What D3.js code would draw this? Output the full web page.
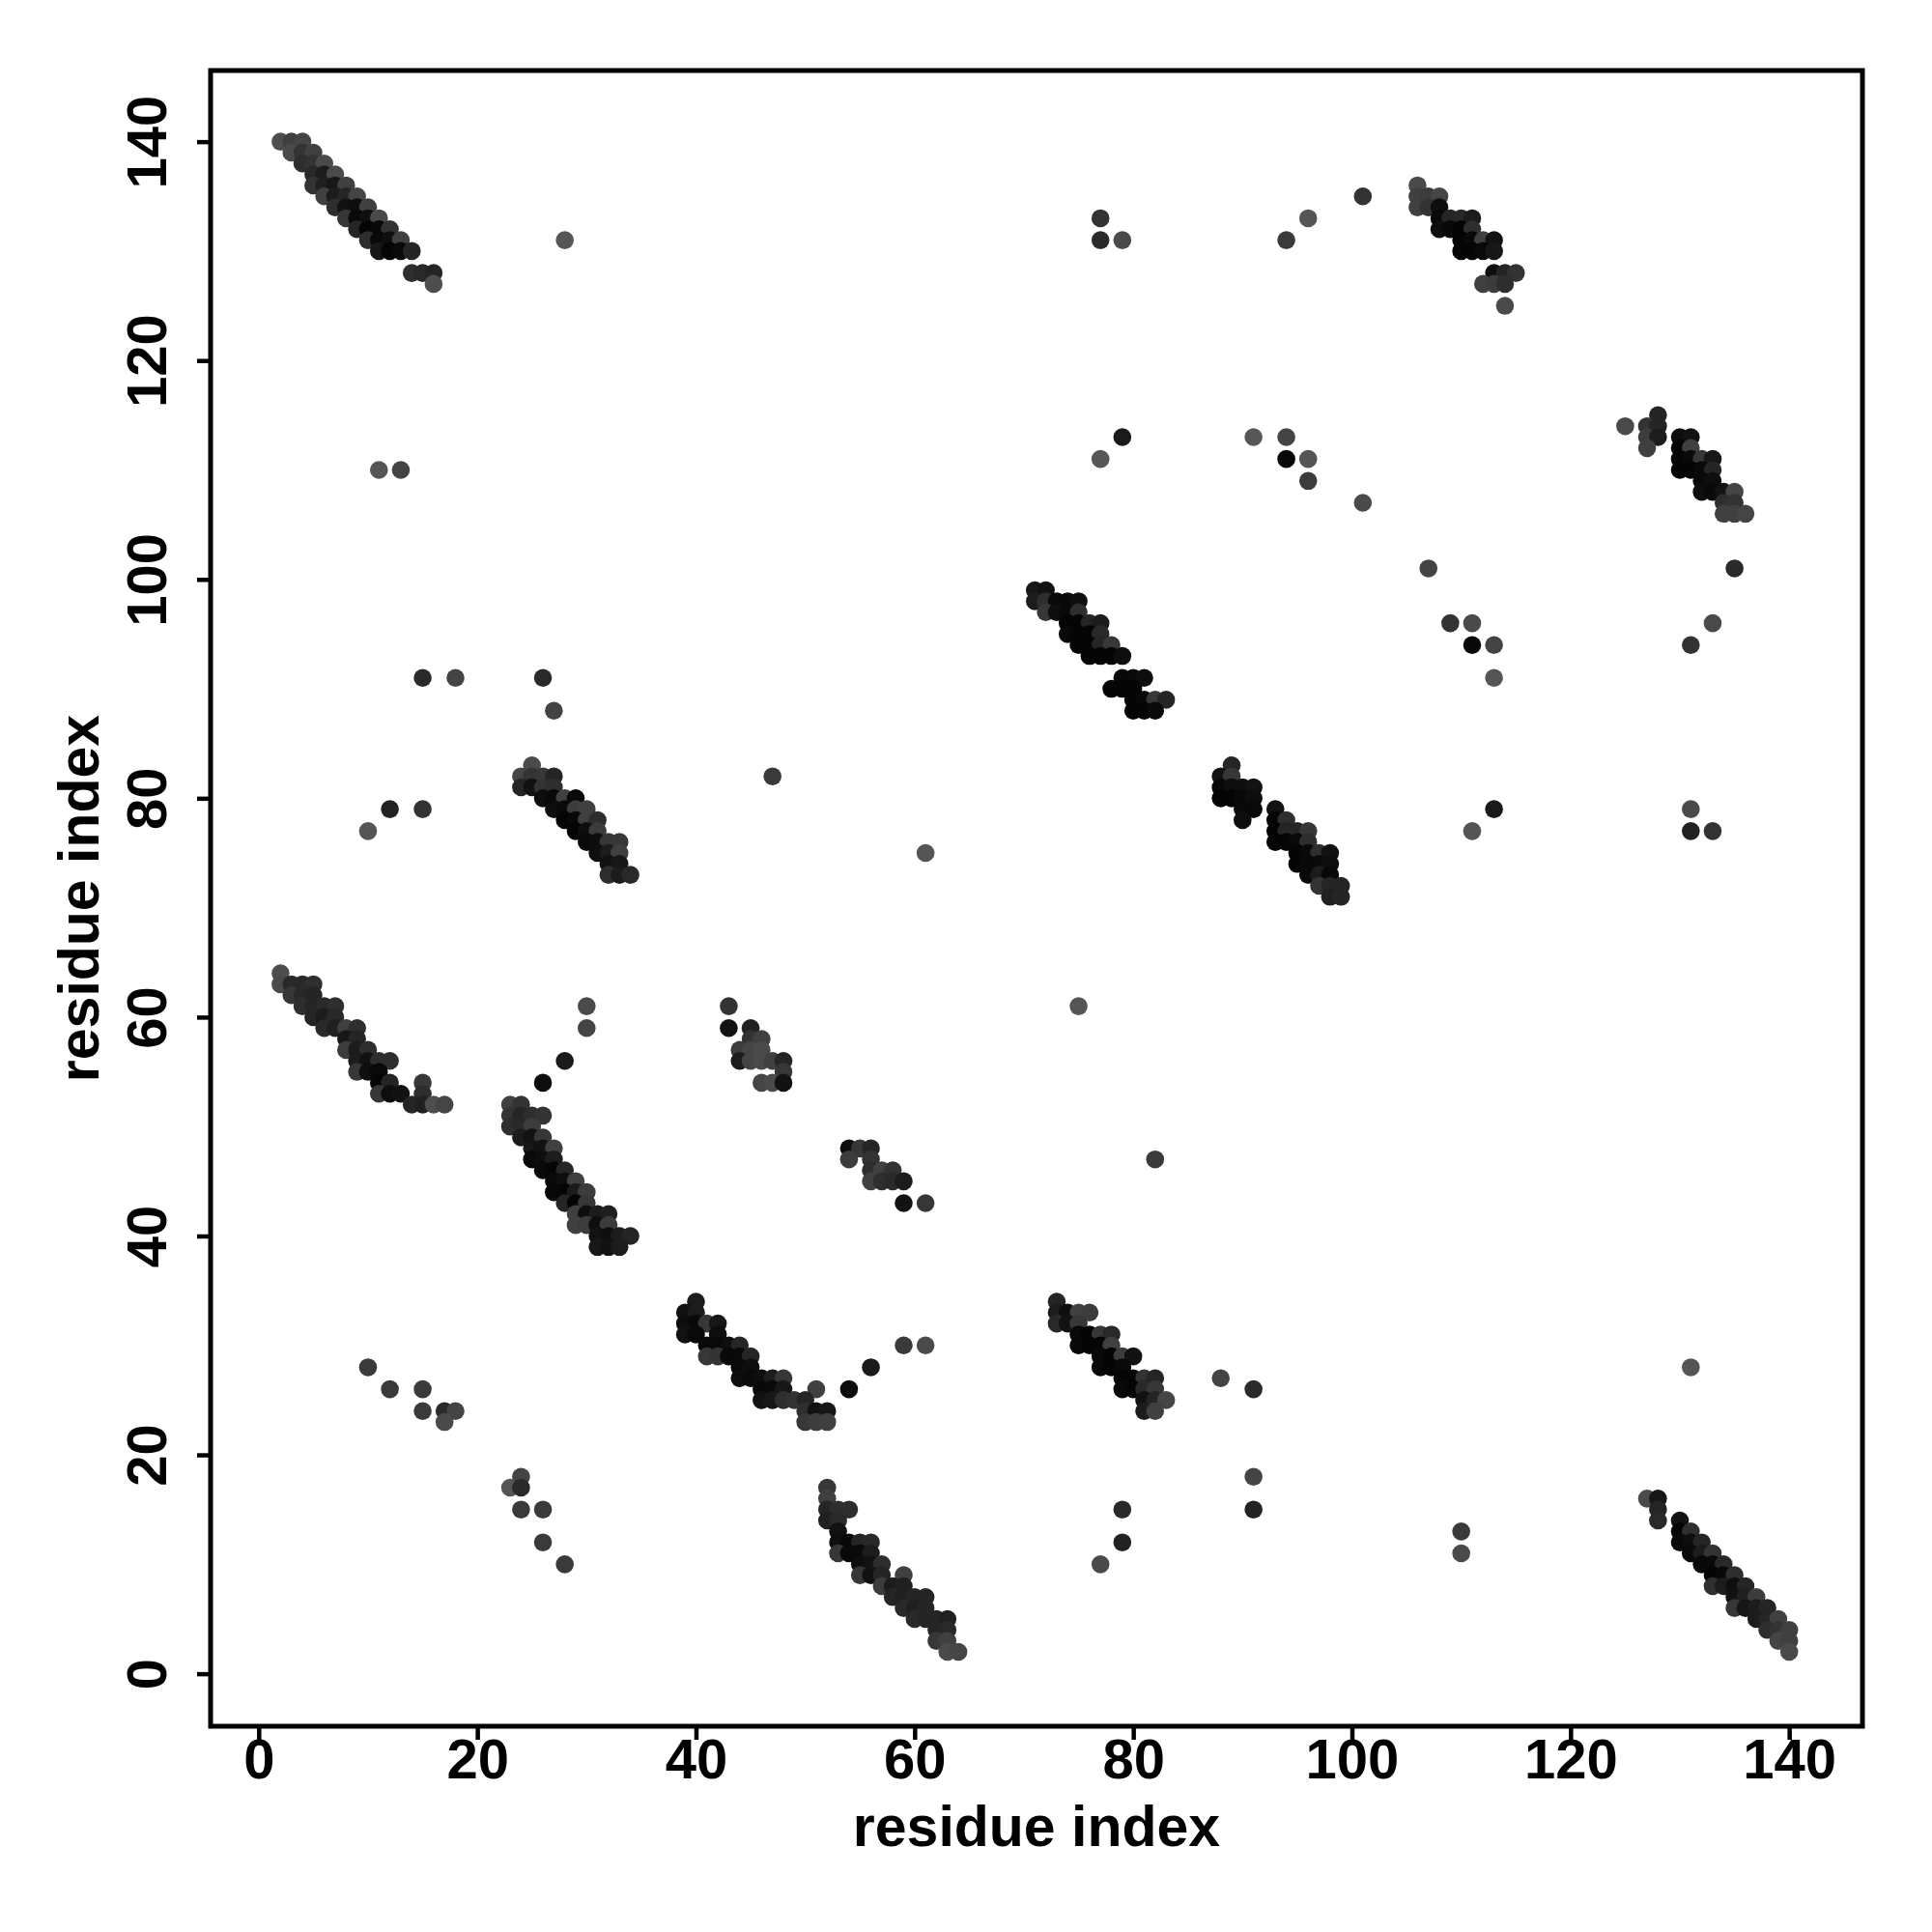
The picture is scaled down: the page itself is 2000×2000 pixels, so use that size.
<!DOCTYPE html>
<html>
<head>
<meta charset="utf-8">
<script src="https://cdn.jsdelivr.net/npm/d3@7"></script>
<style>
  body { margin: 0; background: #fff; }
  svg text { font-family: "Liberation Sans", Arial, Helvetica, sans-serif; font-weight: bold; fill: #000; }
</style>
</head>
<body>
<div id="wrapper"></div>
<script>
// Contact map data: [residue i, residue j, contact strength 0..1]
// Each block is one strand pairing band
const bandTopLeft = [
  [2,140,.15],[3,140,.3],[4,140,.25],
  [3,139,.2],[4,139,.45],[5,139,.3],
  [4,138,.5],[5,138,.45],[6,138,.2],
  [5,137,.55],[6,137,.7],[7,137,.2],
  [5,136,.45],[6,136,.65],[7,136,.75],[8,136,.3],
  [6,135,.3],[7,135,.7],[8,135,.6],[9,135,.25],
  [7,134,.5],[8,134,.8],[9,134,.85],[10,134,.3],
  [8,133,.4],[9,133,.9],[10,133,.85],[11,133,.2],
  [9,132,.6],[10,132,.95],[11,132,.9],[12,132,.45],
  [10,131,.5],[11,131,.9],[12,131,.85],[13,131,.3],
  [11,130,.75],[12,130,.95],[13,130,.9],[14,130,.6],
  [14,128,.5],[15,128,.55],[16,128,.6],
  [16,127,.15]
]
const band25x80 = [
  [25,83,.2],
  [24,82,.25],[25,82,.45],[26,82,.4],[27,82,.6],
  [24,81,.6],[25,81,.8],[26,81,.45],[27,81,.5],
  [26,80,.85],[27,80,.9],[28,80,.3],[29,80,.9],
  [27,79,.85],[28,79,.9],[29,79,.35],[30,79,.3],
  [28,78,.95],[29,78,.9],[30,78,.3],[31,78,.5],
  [29,77,.95],[30,77,.85],[31,77,.35],
  [30,76,.9],[31,76,.85],[32,76,.4],[33,76,.4],
  [31,75,.85],[32,75,.7],[33,75,.3],
  [32,74,.8],[33,74,.75],
  [32,73,.5],[33,73,.7],[34,73,.55]
]
const band5x60 = [
  [2,64,.15],
  [2,63,.2],[3,63,.55],[4,63,.55],[5,63,.5],
  [3,62,.4],[4,62,.55],[5,62,.6],
  [4,61,.5],[5,61,.6],[6,61,.55],[7,61,.5],
  [5,60,.6],[6,60,.7],[7,60,.55],
  [6,59,.55],[7,59,.65],[8,59,.3],[9,59,.5],
  [8,58,.75],[9,58,.6],
  [8,57,.35],[9,57,.7],[10,57,.5],
  [9,56,.7],[10,56,.8],[11,56,.5],[12,56,.5],
  [9,55,.4],[10,55,.85],[11,55,.9],
  [11,54,.95],[12,54,.6],[15,54,.4],
  [11,53,.4],[12,53,.85],[13,53,.8],[15,53,.5],
  [14,52,.6],[15,52,.65],[16,52,.15],[17,52,.25]
]
const band25x45 = [
  [23,52,.3],[24,52,.45],
  [23,51,.45],[24,51,.6],[25,51,.5],[26,51,.45],
  [23,50,.5],[24,50,.55],[25,50,.35],
  [24,49,.7],[25,49,.8],[26,49,.4],
  [25,48,.75],[26,48,.8],[27,48,.3],
  [25,47,.9],[26,47,.85],[27,47,.7],
  [26,46,.9],[27,46,.95],[28,46,.6],
  [27,45,.9],[28,45,.85],[29,45,.3],
  [27,44,.9],[28,44,.95],[29,44,.7],[30,44,.35],
  [28,43,.6],[29,43,.95],[30,43,.4],
  [29,42,.3],[30,42,.85],[31,42,.7],[32,42,.65],
  [29,41,.3],[30,41,.35],[31,41,.85],[32,41,.35],
  [31,40,.8],[32,40,.85],[33,40,.7],[34,40,.6],
  [31,39,.75],[32,39,.8],[33,39,.7]
]
const band45x57 = [
  [43,61,.45],
  [43,59,.8],[45,59,.65],
  [45,58,.45],[46,58,.3],
  [44,57,.35],[45,57,.25],[46,57,.2],
  [44,56,.7],[45,56,.25],[46,56,.2],[47,56,.3],[48,56,.6],
  [48,55,.4],
  [46,54,.25],[47,54,.2],[48,54,.8]
]
const band110x130 = [
  [106,136,.2],
  [106,135,.3],[107,135,.35],[108,135,.25],
  [106,134,.3],[107,134,.45],[108,134,.85],
  [108,133,.9],[109,133,.6],[110,133,.55],[111,133,.7],
  [108,132,.85],[109,132,.9],[110,132,.95],[111,132,.5],
  [110,131,.95],[111,131,.9],[112,131,.3],[113,131,.8],
  [110,130,.95],[111,130,.95],[112,130,.9],[113,130,.75],
  [113,128,.85],[114,128,.6],[115,128,.45],
  [112,127,.3],[113,127,.35],[114,127,.5],
  [114,125,.2]
]
const band130x110 = [
  [128,115,.6],
  [125,114,.2],[127,114,.45],[128,114,.6],
  [127,113,.35],[128,113,.7],[130,113,.85],[131,113,.8],
  [127,112,.3],[130,112,.95],[131,112,.3],
  [130,111,.95],[131,111,.9],[132,111,.4],[133,111,.75],
  [130,110,.95],[131,110,.95],[132,110,.9],[133,110,.6],
  [132,109,.9],[133,109,.85],
  [132,108,.85],[133,108,.9],[134,108,.8],[135,108,.25],
  [134,107,.5],[135,107,.45],
  [134,106,.3],[135,106,.3],[136,106,.25]
]
const band77x93 = [
  [71,99,.75],[72,99,.8],
  [71,98,.7],[72,98,.5],[73,98,.9],[74,98,.9],[75,98,.85],
  [72,97,.4],[73,97,.85],[74,97,.9],[75,97,.5],
  [74,96,.95],[75,96,.95],[76,96,.6],[77,96,.7],
  [74,95,.9],[75,95,.95],[76,95,.95],[77,95,.55],
  [75,94,.95],[76,94,.95],[77,94,.6],[78,94,.4],
  [76,93,.95],[77,93,.95],[78,93,.95],[79,93,.85],
  [79,91,.9],[80,91,.9],[81,91,.85],
  [78,90,.95],[79,90,.95],[80,90,.95],
  [80,89,.95],[81,89,.9],[82,89,.4],[83,89,.6],
  [80,88,.95],[81,88,.95],[82,88,.9]
]
const band93x77 = [
  [89,83,.6],
  [88,82,.8],[89,82,.4],
  [88,81,.9],[89,81,.85],[90,81,.85],[91,81,.8],
  [88,80,.95],[89,80,.95],[90,80,.9],[91,80,.85],
  [90,79,.9],[91,79,.9],[93,79,.8],
  [90,78,.85],[93,78,.95],[94,78,.5],
  [93,77,.95],[94,77,.6],[95,77,.6],[96,77,.4],
  [93,76,.95],[94,76,.95],[95,76,.9],[96,76,.5],
  [95,75,.95],[96,75,.9],[97,75,.5],[98,75,.8],
  [95,74,.95],[96,74,.9],[97,74,.9],[98,74,.85],
  [96,73,.9],[97,73,.7],[98,73,.9],
  [97,72,.45],[98,72,.6],[99,72,.6],
  [98,71,.65],[99,71,.6]
]
const band45x28 = [
  [40,34,.7],
  [39,33,.8],[40,33,.7],
  [39,32,.85],[40,32,.9],[41,32,.4],[42,32,.75],
  [39,31,.8],[40,31,.9],[42,31,.85],
  [41,30,.9],[42,30,.9],[43,30,.85],[44,30,.6],
  [41,29,.4],[42,29,.45],[43,29,.9],[44,29,.9],[45,29,.6],
  [44,28,.9],[45,28,.85],
  [44,27,.85],[45,27,.9],[46,27,.85],[47,27,.7],[48,27,.4],
  [46,26,.9],[47,26,.9],[48,26,.75],[51,26,.3],
  [46,25,.8],[47,25,.75],[48,25,.5],[49,25,.45],[50,25,.6],
  [50,24,.5],[51,24,.8],[52,24,.75],
  [50,23,.4],[51,23,.35],[52,23,.3]
]
const band57x46 = [
  [54,48,.85],[55,48,.4],[56,48,.6],
  [54,47,.35],[56,47,.45],
  [56,46,.5],[57,46,.3],[58,46,.45],
  [56,45,.3],[57,45,.5],[58,45,.55],[59,45,.7],
  [59,43,.8],[61,43,.4]
]
const band58x9 = [
  [52,17,.4],
  [52,16,.3],
  [52,15,.6],[53,15,.5],[54,15,.5],
  [52,14,.65],[53,14,.55],
  [53,13,.8],
  [53,12,.85],[54,12,.9],[55,12,.6],[56,12,.55],
  [53,11,.4],[54,11,.9],[55,11,.9],[56,11,.7],
  [55,10,.85],[56,10,.8],[57,10,.5],
  [55,9,.4],[56,9,.8],[57,9,.6],[59,9,.3],
  [57,8,.35],[58,8,.7],[59,8,.65],
  [58,7,.6],[59,7,.65],[60,7,.6],[61,7,.6],
  [59,6,.55],[60,6,.65],[61,6,.6],
  [60,5,.55],[61,5,.6],[62,5,.6],[63,5,.65],
  [62,4,.6],[63,4,.55],
  [62,3,.4],[63,3,.3],
  [63,2,.2],[64,2,.25]
]
const band78x29 = [
  [73,34,.6],
  [73,33,.7],[74,33,.85],[75,33,.3],[76,33,.35],
  [73,32,.55],[74,32,.8],[75,32,.4],
  [75,31,.9],[76,31,.95],[77,31,.4],[78,31,.55],
  [75,30,.9],[76,30,.95],[77,30,.95],[78,30,.3],
  [77,29,.9],[78,29,.95],[79,29,.35],[80,29,.8],
  [77,28,.9],[78,28,.95],[79,28,.9],
  [79,27,.95],[80,27,.95],[81,27,.45],[82,27,.6],
  [79,26,.9],[80,26,.95],[81,26,.55],[82,26,.4],
  [81,25,.8],[82,25,.6],[83,25,.25],
  [81,24,.7],[82,24,.3]
]
const bandBottomRight = [
  [127,16,.2],[128,16,.75],
  [128,15,.6],
  [128,14,.55],[130,14,.8],
  [130,13,.95],[131,13,.5],
  [130,12,.9],[131,12,.85],[132,12,.6],
  [131,11,.9],[132,11,.7],[133,11,.45],
  [132,10,.9],[133,10,.9],[134,10,.55],
  [133,9,.95],[134,9,.9],[135,9,.5],
  [133,8,.5],[134,8,.7],[135,8,.85],[136,8,.6],
  [135,7,.8],[136,7,.65],[137,7,.35],
  [135,6,.4],[136,6,.75],[137,6,.7],[138,6,.6],
  [137,5,.7],[138,5,.6],[139,5,.3],
  [138,4,.5],[139,4,.45],[140,4,.3],
  [139,3,.25],[140,3,.3],
  [140,2,.2]
]
const isolatedContacts = [
  [28,131,.08],[11,110,.08],[13,110,.26],[15,91,.54],[18,91,.26],[26,91,.54],[27,88,.26],
  [12,79,.63],[15,79,.45],[10,77,.08],[30,61,.2],[30,59,.26],[28,56,.72],[26,54,.86],
  [47,82,.37],[61,75,.08],[75,61,.08],[82,47,.37],
  [10,28,.37],[12,26,.37],[15,26,.37],[15,24,.37],[17,24,.54],[18,24,.26],[17,23,.2],
  [24,18,.26],[23,17,.08],[24,17,.54],[24,15,.37],[26,15,.37],[26,12,.37],[28,10,.37],
  [59,30,.37],[61,30,.2],[56,28,.72],[54,26,.86],[88,27,.26],[91,26,.54],[91,18,.26],
  [91,15,.63],[79,15,.54],[79,12,.63],[77,10,.2],[110,13,.37],[110,11,.2],[131,28,.08],
  [77,133,.45],[77,131,.54],[79,131,.2],[96,133,.08],[94,131,.37],[101,135,.45],
  [79,113,.72],[77,111,.05],[91,113,.05],[94,113,.26],[94,111,.91],[96,111,.08],[96,109,.35],
  [101,107,.2],[107,101,.26],[109,96,.45],[111,96,.2],[133,96,.2],[135,101,.54],
  [111,94,.91],[113,94,.26],[113,91,.08],[131,94,.45],
  [113,79,.72],[111,77,.08],[131,79,.2],[131,77,.63],[133,77,.45]
]

const xTicks = [0, 20, 40, 60, 80, 100, 120, 140]
const yTicks = [0, 20, 40, 60, 80, 100, 120, 140]
const xLabel = 'residue index'
const yLabel = 'residue index'

const contacts = [].concat(
  bandTopLeft, band25x80, band5x60, band25x45, band45x57, band110x130,
  band130x110, band77x93, band93x77, band45x28, band57x46, band58x9,
  band78x29, bandBottomRight, isolatedContacts
)
const xAccessor = d => d[0]
const yAccessor = d => d[1]
const strengthAccessor = d => d[2]

// Dimensions
const dimensions = {
  width: 2000,
  height: 2000,
  margin: { top: 73, right: 72, bottom: 213, left: 218 },
}
dimensions.boundedWidth = dimensions.width - dimensions.margin.left - dimensions.margin.right
dimensions.boundedHeight = dimensions.height - dimensions.margin.top - dimensions.margin.bottom

const wrapper = d3.select('#wrapper')
  .append('svg')
  .attr('width', dimensions.width)
  .attr('height', dimensions.height)
  .style('background', '#fff')

const bounds = wrapper.append('g')
  .attr('transform', `translate(${dimensions.margin.left},${dimensions.margin.top})`)

// Scales (R style: axis range padded a little past the data)
const xScale = d3.scaleLinear()
  .domain([-4.4, 146.7])
  .range([0, dimensions.boundedWidth])
const yScale = d3.scaleLinear()
  .domain([-4.8, 146.5])
  .range([dimensions.boundedHeight, 0])
const colorScale = d3.scaleLinear()
  .domain([0, 1])
  .range(['#5c5c5c', '#000000'])

// Points
bounds.append('g')
  .selectAll('circle')
  .data(contacts)
  .join('circle')
  .attr('cx', d => xScale(xAccessor(d)))
  .attr('cy', d => yScale(yAccessor(d)))
  .attr('r', 9.3)
  .attr('fill', d => colorScale(strengthAccessor(d)))

// Box
bounds.append('rect')
  .attr('width', dimensions.boundedWidth)
  .attr('height', dimensions.boundedHeight)
  .attr('fill', 'none')
  .attr('stroke', '#000')
  .attr('stroke-width', 5)

// Axes
const xAxis = bounds.append('g')
  .attr('transform', `translate(0,${dimensions.boundedHeight})`)
  .call(d3.axisBottom(xScale).tickValues(xTicks).tickSize(14).tickFormat(d3.format('d')))
xAxis.select('.domain').remove()
xAxis.selectAll('line').attr('stroke-width', 4.5)
xAxis.selectAll('text')
  .attr('y', 54)
  .attr('dy', 0)
  .style('font-size', '58px')

const yAxis = bounds.append('g')
  .call(d3.axisLeft(yScale).tickValues(yTicks).tickSize(14).tickFormat(d3.format('d')))
yAxis.select('.domain').remove()
yAxis.selectAll('line').attr('stroke-width', 4.5)
yAxis.selectAll('text')
  .attr('x', 0)
  .attr('dy', 0)
  .attr('text-anchor', 'middle')
  .attr('transform', 'translate(-46,0) rotate(-90)')
  .style('font-size', '58px')

// Axis labels
wrapper.append('text')
  .attr('x', dimensions.margin.left + dimensions.boundedWidth / 2)
  .attr('y', 1911)
  .attr('text-anchor', 'middle')
  .style('font-size', '59px')
  .text(xLabel)

wrapper.append('text')
  .attr('transform', `translate(102,${dimensions.margin.top + dimensions.boundedHeight / 2}) rotate(-90)`)
  .attr('text-anchor', 'middle')
  .style('font-size', '59px')
  .text(yLabel)
</script>
</body>
</html>
